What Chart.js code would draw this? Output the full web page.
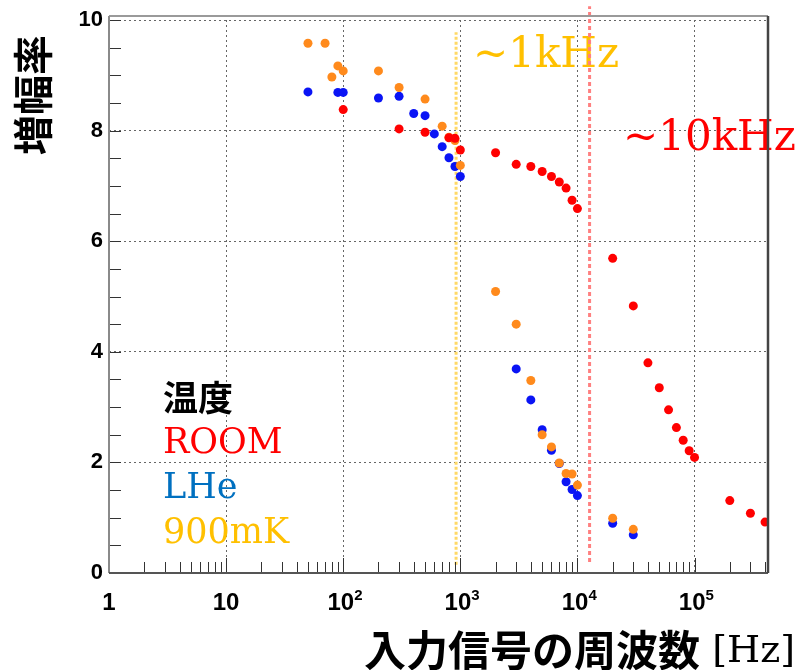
<!DOCTYPE html>
<html>
<head>
<meta charset="utf-8">
<script src="https://cdn.jsdelivr.net/npm/chart.js@4/dist/chart.umd.min.js"></script>
<style>
  html, body { margin: 0; padding: 0; background: #fff; }
  #wrap { width: 798px; height: 670px; }
</style>
</head>
<body>
<div id="wrap"><canvas id="gainChart" width="798" height="670"></canvas></div>
<script>
// Gain vs input frequency, three temperatures

const freqRoom = [100, 300, 500, 800, 900, 1000, 2000, 3000, 4000, 5000, 6000, 7000, 8000, 9000, 10000,
  20000, 30000, 40000, 50000, 60000, 70000, 80000, 90000, 100000, 200000, 300000, 400000];
const gainRoom = [8.38, 8.03, 7.97, 7.87, 7.86, 7.65, 7.60, 7.39, 7.35, 7.26, 7.17, 7.07, 6.96, 6.74, 6.59,
  5.69, 4.83, 3.80, 3.35, 2.95, 2.63, 2.40, 2.21, 2.09, 1.31, 1.08, 0.92];

const freqLHe = [50, 90, 100, 200, 300, 400, 500, 600, 700, 800, 900, 1000,
  3000, 4000, 5000, 6000, 7000, 8000, 9000, 10000, 20000, 30000];
const gainLHe = [8.70, 8.69, 8.69, 8.59, 8.62, 8.31, 8.27, 7.94, 7.71, 7.51, 7.35, 7.17,
  3.69, 3.13, 2.59, 2.22, 1.98, 1.65, 1.51, 1.40, 0.90, 0.69];

const freq900mK = [50, 70, 80, 90, 100, 200, 300, 500, 700, 800, 900, 1000,
  2000, 3000, 4000, 5000, 6000, 7000, 8000, 9000, 10000, 20000, 30000];
const gain900mK = [9.58, 9.58, 8.97, 9.17, 9.08, 9.08, 8.78, 8.57, 8.08, 7.88, 7.82, 7.37,
  5.09, 4.50, 3.48, 2.50, 2.28, 1.99, 1.80, 1.79, 1.59, 0.99, 0.79];

// cutoff markers (~1kHz, ~10kHz)
const cutoff1k = [{ x: 920, y: 0.15 }, { x: 920, y: 9.78 }];
const cutoff10k = [{ x: 12700, y: 0.2 }, { x: 12700, y: 10.25 }];

const xTickValues = [1, 10, 100, 1000, 10000, 100000];
const yTickValues = [0, 2, 4, 6, 8, 10];
const legendNames = ['温度', 'ROOM', 'LHe', '900mK'];

const SERIF = '"DejaVu Serif"';

function toPoints(xs, ys) {
  return xs.map((x, i) => ({ x: x, y: ys[i] }));
}

// exponent of 10^n labels is drawn separately as a superscript,
// the thin space leaves room for it
function xLabel(v) {
  if (v === 1) return '1';
  if (v === 10) return '10';
  return '10\u2009';
}

const decorations = {
  id: 'decorations',
  beforeDatasetsDraw(chart) {
    const ctx = chart.ctx;
    ctx.save();
    ctx.textAlign = 'left';
    ctx.textBaseline = 'alphabetic';

    // legend-style labels
    ctx.fillStyle = '#000';
    ctx.font = 'bold 35px "Noto Sans CJK JP"';
    ctx.fillText(legendNames[0], 163, 411);
    ctx.font = '35px ' + SERIF;
    ctx.fillStyle = '#ff0000';
    ctx.fillText(legendNames[1], 163, 453);
    ctx.fillStyle = '#0070c0';
    ctx.fillText(legendNames[2], 163, 498);
    ctx.fillStyle = '#ffc000';
    ctx.fillText(legendNames[3], 163, 543);

    // annotations
    ctx.font = '42px ' + SERIF;
    ctx.fillStyle = '#ffc000';
    ctx.fillText('~1kHz', 473, 67);
    ctx.fillStyle = '#ff0000';
    ctx.fillText('~10kHz', 623, 150);
    ctx.restore();
  },
  afterDraw(chart) {
    const ctx = chart.ctx;
    const area = chart.chartArea;
    const xs = chart.scales.x;
    const ys = chart.scales.y;
    const top = area.top - 4;
    ctx.save();

    // exponents for the x tick labels
    ctx.fillStyle = '#000';
    ctx.font = 'bold 15px "Liberation Sans"';
    ctx.textAlign = 'left';
    ctx.textBaseline = 'alphabetic';
    xTickValues.forEach(v => {
      const exp = Math.round(Math.log10(v));
      if (exp < 2) return;
      ctx.fillText(String(exp), xs.getPixelForValue(v) + 11, 600);
    });

    // inner tick marks
    ctx.strokeStyle = '#333';
    ctx.lineWidth = 1;
    ctx.beginPath();
    for (let e = 0; e <= 5; e++) {
      for (let m = 1; m <= 9; m++) {
        const v = m * Math.pow(10, e);
        if (v < xs.min || v > xs.max) continue;
        const px = Math.round(xs.getPixelForValue(v)) + 0.5;
        const len = m === 1 ? 15 : 11;
        ctx.moveTo(px, area.bottom);
        ctx.lineTo(px, area.bottom - len);
      }
    }
    for (let v = 0; v <= 10; v += 0.5) {
      const py = Math.round(ys.getPixelForValue(v)) + 0.5;
      ctx.moveTo(area.left, py);
      ctx.lineTo(area.left + 12, py);
    }
    ctx.stroke();

    // frame
    ctx.lineWidth = 2;
    ctx.strokeStyle = '#9a9a9a';
    ctx.beginPath();
    ctx.moveTo(area.left, top);
    ctx.lineTo(area.right, top);
    ctx.stroke();
    ctx.strokeStyle = '#8a8a8a';
    ctx.beginPath();
    ctx.moveTo(area.left, top);
    ctx.lineTo(area.left, area.bottom);
    ctx.stroke();
    ctx.strokeStyle = '#555';
    ctx.beginPath();
    ctx.moveTo(area.left, area.bottom);
    ctx.lineTo(area.right, area.bottom);
    ctx.stroke();
    ctx.lineWidth = 2.5;
    ctx.strokeStyle = '#444';
    ctx.beginPath();
    ctx.moveTo(area.right, top);
    ctx.lineTo(area.right, area.bottom);
    ctx.stroke();

    // axis titles
    ctx.fillStyle = '#000';
    ctx.textBaseline = 'middle';
    ctx.save();
    ctx.translate(33, 95);
    ctx.rotate(-Math.PI / 2);
    ctx.textAlign = 'center';
    ctx.font = 'bold 40px "Noto Sans CJK JP"';
    ctx.fillText('増幅率', 0, 0);
    ctx.restore();

    const unit = ' [Hz]';
    ctx.font = '38px ' + SERIF;
    const unitW = ctx.measureText(unit).width;
    ctx.textAlign = 'right';
    ctx.fillText(unit, 795, 652);
    ctx.font = 'bold 42px "Noto Sans CJK JP"';
    ctx.fillText('入力信号の周波数', 795 - unitW, 650);
    ctx.restore();
  }
};

const ctx = document.getElementById('gainChart').getContext('2d');
new Chart(ctx, {
  type: 'scatter',
  data: {
    datasets: [
      { label: 'ROOM', data: toPoints(freqRoom, gainRoom), backgroundColor: '#ff0000', pointRadius: 4.5, borderWidth: 0 },
      { label: '900mK', data: toPoints(freq900mK, gain900mK), backgroundColor: '#ff8a1c', pointRadius: 4.5, borderWidth: 0 },
      { label: 'LHe', data: toPoints(freqLHe, gainLHe), backgroundColor: '#0a14f5', pointRadius: 4.5, borderWidth: 0 },
      { label: '~1kHz', data: cutoff1k, showLine: true, pointRadius: 0, borderColor: '#ffd966', borderWidth: 3, borderDash: [3, 2] },
      { label: '~10kHz', data: cutoff10k, showLine: true, pointRadius: 0, borderColor: '#ff8080', borderWidth: 3, borderDash: [4, 3], clip: false }
    ]
  },
  options: {
    responsive: false,
    animation: false,
    devicePixelRatio: 1,
    layout: { padding: { top: 20, right: 30, left: 0, bottom: 0 } },
    plugins: { legend: { display: false }, tooltip: { enabled: false } },
    scales: {
      x: {
        type: 'logarithmic',
        min: 1,
        max: 424000,
        afterBuildTicks: s => { s.ticks = xTickValues.map(v => ({ value: v })); },
        afterFit: s => { s.height = 97; },
        border: { display: false, dash: [2, 3] },
        grid: {
          drawTicks: false,
          lineWidth: 1,
          color: c => (c.tick && c.tick.value === 1) ? 'rgba(0,0,0,0)' : '#666'
        },
        ticks: {
          callback: v => xLabel(v),
          autoSkip: false,
          maxRotation: 0,
          padding: 16,
          color: '#000',
          font: { family: '"Liberation Sans"', size: 24, weight: 'bold' }
        }
      },
      y: {
        min: 0,
        max: 10,
        afterBuildTicks: s => { s.ticks = yTickValues.map(v => ({ value: v })); },
        afterFit: s => { s.width = 109; },
        border: { display: false, dash: [2, 3] },
        grid: {
          drawTicks: false,
          lineWidth: 1,
          color: c => (c.tick && c.tick.value === 0) ? 'rgba(0,0,0,0)' : '#666'
        },
        ticks: {
          padding: 6,
          color: '#000',
          font: { family: '"Liberation Sans"', size: 22, weight: 'bold' }
        }
      }
    }
  },
  plugins: [decorations]
});
</script>
</body>
</html>
